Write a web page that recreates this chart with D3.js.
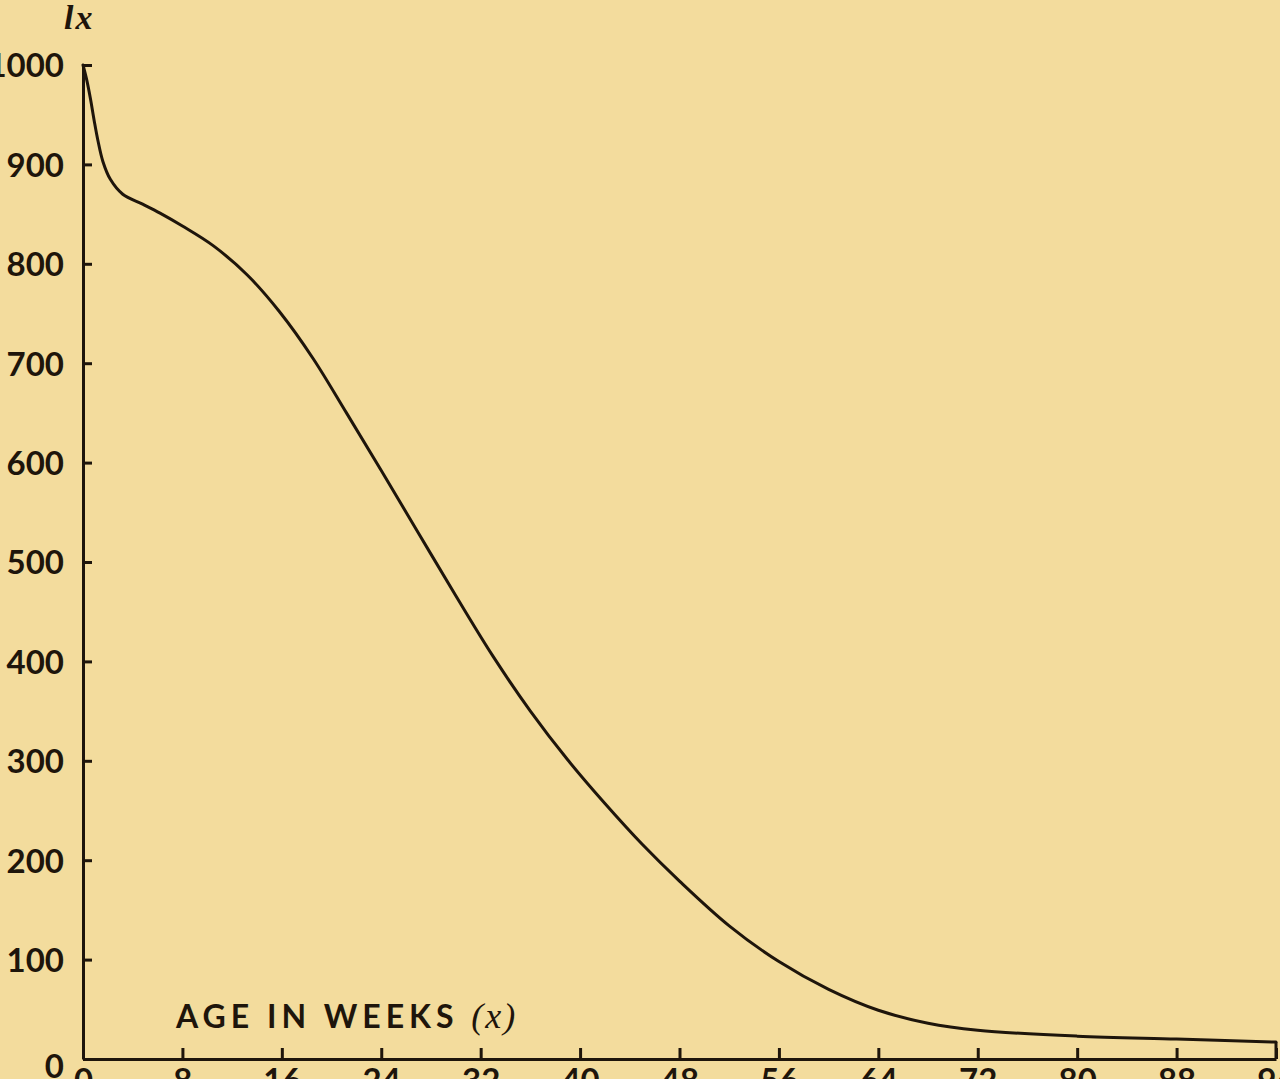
<!DOCTYPE html>
<html>
<head>
<meta charset="utf-8">
<script src="https://cdn.jsdelivr.net/npm/d3@7"></script>
<style>
  html, body { margin: 0; padding: 0; background: #f3dc9d; overflow: hidden; }
  svg { display: block; }
</style>
</head>
<body>
<svg id="chart" width="1280" height="1079"></svg>
<script>
// Data (l_x per 1000 vs age in weeks)
const weeks = [0, 0.3, 0.6, 0.9, 1.2, 1.6, 2.2, 3.2, 4.8, 6.2, 8, 10.5, 13.2, 15.8, 18.5, 21.2, 24, 27, 30, 33, 36, 39, 42, 45, 48, 52, 56, 60, 64, 68, 72, 80, 88, 96];
const lx    = [1000, 985, 966, 944, 924, 903, 885, 870, 860, 851, 838, 818, 789, 752, 705, 650, 592, 529, 466, 405, 350, 301, 257, 216, 179, 134, 98, 70, 49, 36, 29, 23, 20, 17];
const xTicks = [0, 8, 16, 24, 32, 40, 48, 56, 64, 72, 80, 88, 96];
const yTicks = [0, 100, 200, 300, 400, 500, 600, 700, 800, 900, 1000];
const yTitle = "lx";
const xTitle = "AGE IN WEEKS ";
const xTitleVar = "(x)";

const ink = "#1e150b";
const numFont = "Lato, 'DejaVu Sans', sans-serif";
const svg = d3.select("#chart");

const x = d3.scaleLinear().domain([0, 96]).range([83, 1276]);
const y = d3.scaleLinear().domain([0, 1000]).range([1059, 65]);

// Y axis
const yAxis = d3.axisLeft(y).tickValues(yTicks).tickSize(-9).tickSizeOuter(0).tickPadding(19).tickFormat(d3.format("d"));
const gy = svg.append("g").attr("transform", `translate(${x(0)},0)`).call(yAxis);
gy.select(".domain").attr("stroke", ink).attr("stroke-width", 3);
gy.selectAll(".tick line").attr("stroke", ink).attr("stroke-width", 3);
gy.selectAll(".tick text").attr("fill", ink).attr("font-family", numFont)
  .attr("font-size", 33).attr("font-weight", 700)
  .attr("dy", d => d === 0 ? "0.55em" : "0.36em");

// X axis
const xAxis = d3.axisBottom(x).tickValues(xTicks).tickSize(-11).tickSizeOuter(0).tickPadding(10).tickFormat(d3.format("d"));
const gx = svg.append("g").attr("transform", `translate(0,${y(0)})`).call(xAxis);
gx.select(".domain").attr("stroke", ink).attr("stroke-width", 3);
gx.selectAll(".tick line").attr("stroke", ink).attr("stroke-width", 3);
gx.selectAll(".tick text").attr("fill", ink).attr("font-family", numFont)
  .attr("font-size", 33).attr("font-weight", 700);

// Curve
const pts = weeks.map((w, i) => [w, lx[i]]);
const line = d3.line().x(d => x(d[0])).y(d => y(d[1])).curve(d3.curveCatmullRom.alpha(0.5));
svg.append("path").datum(pts).attr("d", line)
  .attr("fill", "none").attr("stroke", ink).attr("stroke-width", 3)
  .attr("stroke-linejoin", "round").attr("stroke-linecap", "round");

// closing line at the last age
const last = pts[pts.length - 1];
svg.append("line")
  .attr("x1", x(last[0])).attr("x2", x(last[0]))
  .attr("y1", y(last[1])).attr("y2", y(0))
  .attr("stroke", ink).attr("stroke-width", 3);

// Y title
svg.append("text").attr("x", 64).attr("y", 29)
  .attr("font-family", "'Liberation Serif', 'DejaVu Serif', serif")
  .attr("font-style", "italic").attr("font-weight", 700).attr("font-size", 34)
  .attr("letter-spacing", 2).attr("fill", ink)
  .text(yTitle);

// X title
const xt = svg.append("text").attr("x", 176).attr("y", 1028)
  .attr("font-family", numFont).attr("font-weight", 700)
  .attr("font-size", 32).attr("fill", ink);
xt.append("tspan").attr("letter-spacing", 5).text(xTitle);
xt.append("tspan").attr("font-style", "italic").attr("font-family", "'Liberation Serif', serif")
  .attr("font-weight", 400).attr("font-size", 36).attr("letter-spacing", 2).text(xTitleVar);
</script>
</body>
</html>
